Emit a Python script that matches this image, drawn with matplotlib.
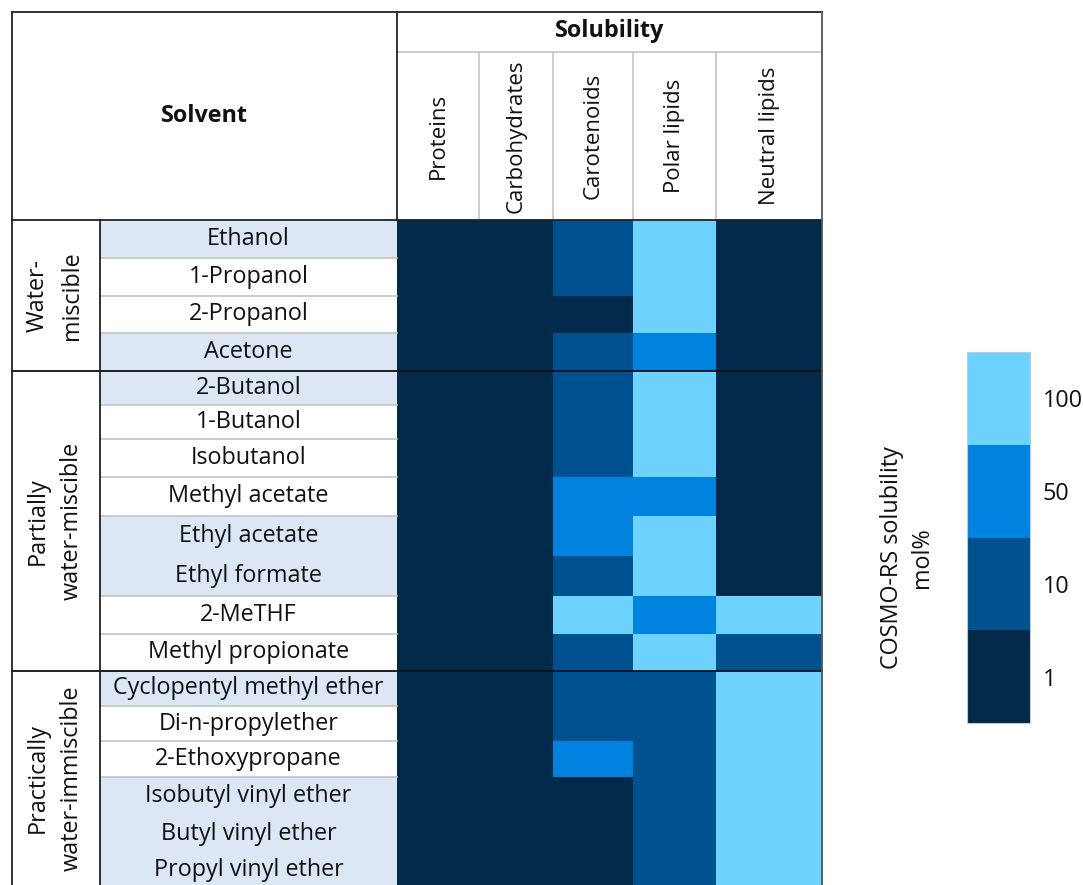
import matplotlib
matplotlib.use("Agg")
import matplotlib.pyplot as plt
import numpy as np
from matplotlib.colors import ListedColormap, BoundaryNorm

plt.rcParams['font.family'] = ['Open Sans', 'DejaVu Sans']

# ---- data -------------------------------------------------------------
solutes = ["Proteins", "Carbohydrates", "Carotenoids", "Polar lipids", "Neutral lipids"]

solvents = [
    "Ethanol", "1-Propanol", "2-Propanol", "Acetone",
    "2-Butanol", "1-Butanol", "Isobutanol", "Methyl acetate",
    "Ethyl acetate", "Ethyl formate", "2-MeTHF", "Methyl propionate",
    "Cyclopentyl methyl ether", "Di-n-propylether", "2-Ethoxypropane",
    "Isobutyl vinyl ether", "Butyl vinyl ether", "Propyl vinyl ether",
]

groups = ["Water-\nmiscible", "Partially\nwater-miscible", "Practically\nwater-immiscible"]
group_sizes = [4, 8, 6]

# COSMO-RS solubility class (mol%) per solvent, columns follow `solutes`
solubility = [
    [1, 1, 10, 100, 1],
    [1, 1, 10, 100, 1],
    [1, 1, 1, 100, 1],
    [1, 1, 10, 50, 1],
    [1, 1, 10, 100, 1],
    [1, 1, 10, 100, 1],
    [1, 1, 10, 100, 1],
    [1, 1, 50, 50, 1],
    [1, 1, 50, 100, 1],
    [1, 1, 10, 100, 1],
    [1, 1, 100, 50, 100],
    [1, 1, 10, 100, 10],
    [1, 1, 10, 10, 100],
    [1, 1, 10, 10, 100],
    [1, 1, 50, 10, 100],
    [1, 1, 1, 10, 100],
    [1, 1, 1, 10, 100],
    [1, 1, 1, 10, 100],
]

classes = [1, 10, 50, 100]
class_labels = ["1", "10", "50", "100"]

# ---- layout (pixel grid of the table) ----------------------------------
W, H = 1083, 885
x_left, x_group, x_data = 12, 100, 397
col_edges = [397, 479, 553, 633, 716, 822]
y_top, y_sub, y_head = 12, 52, 220
row_edges = [220, 258, 296, 333, 371, 405, 439, 477, 516, 556, 596,
             634, 671, 706, 741, 777, 815, 852, 889]
shaded = [1, 0, 0, 1, 1, 0, 0, 0, 1, 1, 0, 0, 1, 0, 0, 1, 1, 1]
merged_below = {8, 15, 16}   # no separator line under these rows

colors = ["#00294a", "#00518f", "#0083df", "#6dd3fe"]
shade_color = "#dbe7f4"
grid_gray = "#c4c4c4"
ink = "#111111"
fs = 16.8
fs_head = 16

fig = plt.figure(figsize=(W / 100, H / 100), dpi=100)
ax = fig.add_axes([0, 0, 1, 1])
ax.set_xlim(0, W)
ax.set_ylim(H, 0)
ax.axis("off")

# heatmap
cmap = ListedColormap(colors)
norm = BoundaryNorm(np.arange(-0.5, len(classes) + 0.5, 1), cmap.N)
idx = np.array([[classes.index(v) for v in row] for row in solubility])
mesh = ax.pcolormesh(col_edges, row_edges, idx, cmap=cmap, norm=norm,
                     shading="flat", edgecolors="none", zorder=1)

# shaded label cells and solvent names
for i, name in enumerate(solvents):
    y0, y1 = row_edges[i], row_edges[i + 1]
    if shaded[i]:
        ax.fill_between([x_group, x_data], y0, y1, color=shade_color, lw=0, zorder=0)
    ax.text((x_group + x_data) / 2, (y0 + y1) / 2, name, ha="center", va="center",
            fontsize=fs, color=ink, zorder=3)
    if i < len(solvents) - 1 and i not in merged_below:
        ax.plot([x_group, x_data], [y1, y1], color=grid_gray, lw=1.2, zorder=2)

# group labels and group separators
start = 0
for g, n in zip(groups, group_sizes):
    y0, y1 = row_edges[start], min(row_edges[start + n], H)
    ax.text((x_left + x_group) / 2 - 1, (y0 + y1) / 2, g, rotation=90, ha="center",
            va="center", multialignment="center", fontsize=fs, color=ink,
            linespacing=1.55)
    start += n
    if start < len(solvents):
        ax.plot([x_left, col_edges[-1]], [row_edges[start]] * 2, color="#111111",
                lw=1.3, zorder=4)

# header
ax.text((x_left + x_data) / 2, (y_top + y_head) / 2, "Solvent", ha="center",
        va="center", fontsize=fs, fontweight="bold", color=ink)
ax.text((x_data + col_edges[-1]) / 2, (y_top + y_sub) / 2 - 1, "Solubility",
        ha="center", va="center", fontsize=fs, fontweight="bold", color=ink)
for j, s in enumerate(solutes):
    xc = (col_edges[j] + col_edges[j + 1]) / 2
    ax.text(xc, (y_sub + y_head) / 2, s, rotation=90, ha="center", va="center",
            fontsize=fs_head, color=ink)
for xe in col_edges[1:-1]:
    ax.plot([xe, xe], [y_sub, y_head], color=grid_gray, lw=1.2)
ax.plot([x_data, col_edges[-1]], [y_sub, y_sub], color=grid_gray, lw=1.2)

# frame lines
line_kw = dict(color="#222222", lw=1.3, zorder=4)
ax.plot([x_left, col_edges[-1]], [y_top, y_top], **line_kw)
ax.plot([x_left, col_edges[-1]], [y_head, y_head], **line_kw)
ax.plot([x_left, x_left], [y_top, H], **line_kw)
ax.plot([col_edges[-1], col_edges[-1]], [y_top, H], color="#555555", lw=1.3, zorder=4)
ax.plot([x_data, x_data], [y_top, y_head], **line_kw)
ax.plot([x_group, x_group], [y_head, H], **line_kw)

# colorbar
cax = fig.add_axes([967 / W, 1 - 723 / H, 63 / W, 371 / H])
cb = fig.colorbar(mesh, cax=cax, ticks=range(len(classes)))
cb.ax.minorticks_off()
cb.ax.set_yticklabels(class_labels)
cb.ax.tick_params(which="both", length=0, pad=9, labelsize=fs, labelcolor=ink)
cb.outline.set_edgecolor("#c8c8c8")
cb.outline.set_linewidth(0.8)
fig.text(907 / W, 1 - 558 / H, "COSMO-RS solubility\nmol%", rotation=90,
         ha="center", va="center", multialignment="center", fontsize=fs,
         color=ink, linespacing=1.3)

fig.savefig("out.png", dpi=100)
